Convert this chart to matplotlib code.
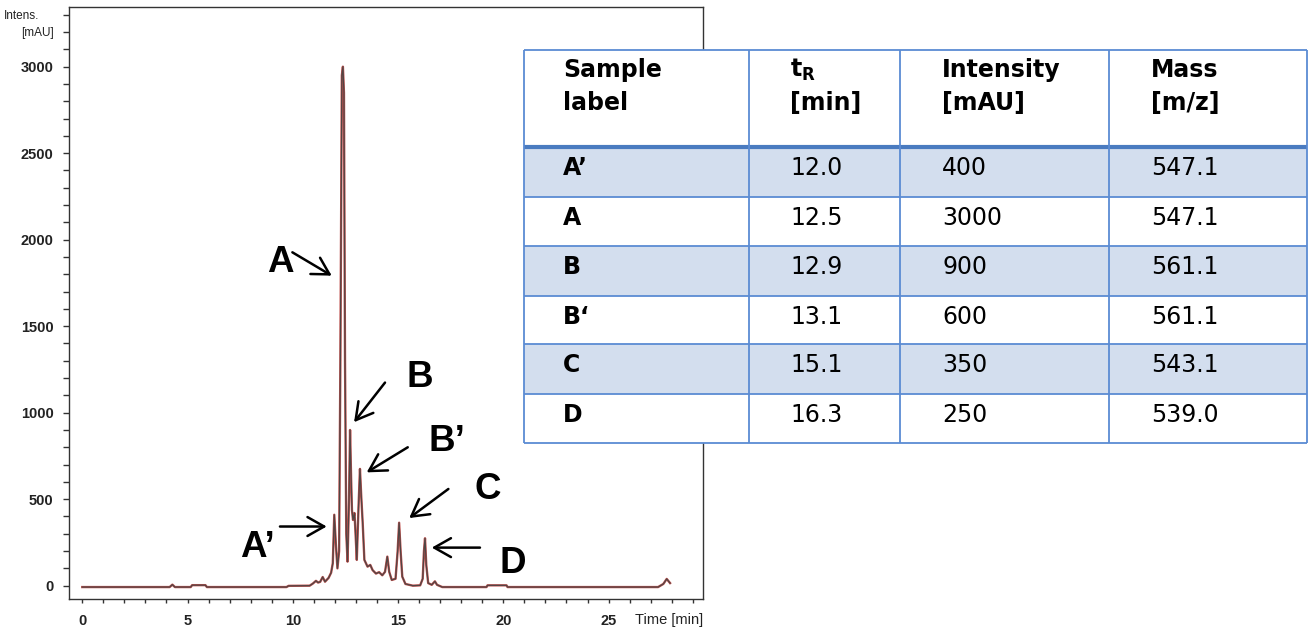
import matplotlib
matplotlib.use('Agg')
import matplotlib.pyplot as plt
from matplotlib.patches import Rectangle
import matplotlib.ticker as tkr

plt.rcParams['font.family'] = ['Liberation Sans', 'DejaVu Sans']
plt.rcParams['mathtext.fontset'] = 'dejavusans'

# chromatogram trace: time [min], intensity [mAU]
time_min = [0.00, 4.15, 4.28, 4.40, 5.15, 5.22, 5.85, 5.92, 9.70, 9.80,
            10.80, 10.95, 11.10, 11.20, 11.30, 11.42, 11.53, 11.70, 11.82, 11.90,
            11.97, 12.05, 12.12, 12.20, 12.26, 12.33, 12.38, 12.43, 12.48, 12.54,
            12.60, 12.67, 12.72, 12.77, 12.81, 12.86, 12.93, 12.98, 13.04, 13.12,
            13.19, 13.25, 13.32, 13.40, 13.55, 13.68, 13.79, 13.95, 14.10, 14.25,
            14.38, 14.49, 14.58, 14.70, 14.88, 14.98, 15.05, 15.12, 15.20, 15.35,
            15.70, 16.05, 16.17, 16.23, 16.28, 16.34, 16.43, 16.60, 16.75, 16.85,
            17.10, 19.20, 19.25, 20.15, 20.20, 27.35, 27.60, 27.76, 27.92]
intens_mau = [-8, -8, 6, -8, -8, 3, 3, -8, -8, -1,
              0, 12, 28, 18, 22, 50, 23, 45, 75, 130,
              410, 230, 100, 200, 1300, 2950, 3000, 2850, 1300, 300,
              139, 500, 900, 620, 437, 380, 420, 300, 149, 450,
              675, 520, 362, 149, 110, 120, 90, 70, 78, 60,
              80, 168, 80, 33, 40, 200, 364, 200, 52, 10,
              0, 2, 40, 200, 274, 120, 15, 5, 25, 5,
              -8, -8, 2, 2, -8, -8, 10, 39, 15]

# peak labels on the chromatogram
peak_names = ['A’', 'A', 'B', 'B’', 'C', 'D']

# table contents
header_top = ['Sample', r'$\mathbf{t}_{\mathbf{R}}$', 'Intensity', 'Mass']
header_bottom = ['label', '[min]', '[mAU]', '[m/z]']
sample_label = ['A’', 'A', 'B', 'B‘', 'C', 'D']
t_r = [12.0, 12.5, 12.9, 13.1, 15.1, 16.3]
intensity = [400, 3000, 900, 600, 350, 250]
mass = [547.1, 547.1, 561.1, 561.1, 543.1, 539.0]

W, H = 1308, 631
fig = plt.figure(figsize=(W / 100, H / 100), dpi=100)
ax = fig.add_axes([69 / W, 1 - 599 / H, (702.5 - 69) / W, (599 - 7) / H])

ax.plot(time_min, intens_mau, color='#C0504D', lw=1.7, zorder=2)
ax.plot(time_min, intens_mau, color='#444444', lw=0.9, alpha=0.9, zorder=3)

ax.set_xlim(-0.63, 29.46)
ax.set_ylim(-77, 3345)

edge = '#333333'
for s in ax.spines.values():
    s.set_color(edge)
    s.set_linewidth(1.0)

ax.xaxis.set_major_locator(tkr.FixedLocator(range(0, 30)))
ax.xaxis.set_major_formatter(tkr.FuncFormatter(
    lambda v, p: '%d' % v if int(round(v)) % 5 == 0 and v <= 25 else ''))
ax.yaxis.set_major_locator(tkr.FixedLocator(range(0, 3301, 100)))
ax.yaxis.set_major_formatter(tkr.FuncFormatter(
    lambda v, p: '%d' % v if int(round(v)) % 500 == 0 and v <= 3000 else ''))
ax.tick_params(axis='x', direction='out', length=3.1, width=1.0, color=edge,
               pad=7.5, labelsize=10.5)
ax.tick_params(axis='y', direction='out', length=4.1, width=1.0, color=edge,
               pad=7.0, labelsize=10.5)
for lab in ax.get_xticklabels() + ax.get_yticklabels():
    lab.set_fontweight('bold')
    lab.set_color('#222222')

fig.text(39.3 / W, 1 - 15.7 / H, 'Intens.', ha='right', va='center',
         fontsize=8.5, color='#222222')
fig.text(54 / W, 1 - 33.3 / H, '[mAU]', ha='right', va='center',
         fontsize=8.5, color='#222222')
fig.text(703.3 / W, 1 - 624 / H, 'Time [min]', ha='right', va='baseline',
         fontsize=10.5, color='#222222')

# peak letters (left, baseline) and arrows (tail -> tip), in data units
label_pos = [(7.49, 166), (8.76, 1815), (15.38, 1149), (16.44, 777),
             (18.62, 500), (19.84, 72)]
arrow_tail = [(9.39, 342), (9.98, 1927), (14.38, 1174), (15.46, 800),
              (17.39, 559), (18.89, 220)]
arrow_tip = [(11.61, 342), (11.85, 1792), (12.91, 945), (13.51, 655),
             (15.53, 391), (16.60, 220)]
for name, lp, tail, tip in zip(peak_names, label_pos, arrow_tail, arrow_tip):
    ax.text(lp[0], lp[1], name, ha='left', va='baseline', fontsize=26.5,
            fontweight='bold', color='black', zorder=5)
    ax.annotate('', xy=tip, xytext=tail,
                arrowprops=dict(arrowstyle='->,head_length=0.6,head_width=0.34',
                                mutation_scale=20, lw=1.8, color='black',
                                shrinkA=0, shrinkB=0), zorder=5)

# table drawn on top of the chart
col_x = [524, 749, 900, 1109, 1307]
row_y = [50, 147.3, 197.3, 246, 295.7, 344.3, 394, 443.3]
text_x = [563.3, 790, 942, 1151]
tab = fig.add_axes([col_x[0] / W, 1 - row_y[-1] / H,
                    (col_x[-1] - col_x[0]) / W, (row_y[-1] - row_y[0]) / H])
tab.set_xlim(col_x[0], col_x[-1])
tab.set_ylim(row_y[-1], row_y[0])
tab.axis('off')
tab.add_patch(Rectangle((col_x[0], row_y[0]), col_x[-1] - col_x[0],
                        row_y[-1] - row_y[0], facecolor='white',
                        edgecolor='none', zorder=0))

rows = list(zip(sample_label, ['%.1f' % v for v in t_r],
                ['%d' % v for v in intensity], ['%.1f' % v for v in mass]))
for i, row in enumerate(rows):
    top, bot = row_y[i + 1], row_y[i + 2]
    if i % 2 == 0:
        tab.add_patch(Rectangle((col_x[0], top), col_x[-1] - col_x[0], bot - top,
                                facecolor='#D3DEEE', edgecolor='none', zorder=1))
    for j, val in enumerate(row):
        tab.text(text_x[j], top + 28, val, ha='left', va='baseline',
                 fontsize=17, family='DejaVu Sans',
                 fontweight='bold' if j == 0 else 'normal', color='black',
                 zorder=4)

for j in range(4):
    tab.text(text_x[j], row_y[0] + 27.3, header_top[j], ha='left',
             va='baseline', fontsize=17, family='DejaVu Sans',
             fontweight='bold', color='black', zorder=4)
    tab.text(text_x[j], row_y[0] + 60, header_bottom[j], ha='left',
             va='baseline', fontsize=17, family='DejaVu Sans',
             fontweight='bold', color='black', zorder=4)

line_col = '#5B8BD3'
for k, y in enumerate(row_y):
    tab.plot([col_x[0], col_x[-1]], [y, y], color='#4A7BC0' if k == 1 else line_col,
             lw=3.0 if k == 1 else 1.3, clip_on=False, zorder=3,
             solid_capstyle='butt')
for x in col_x:
    tab.plot([x, x], [row_y[0], row_y[-1]], color=line_col, lw=1.3,
             clip_on=False, zorder=3, solid_capstyle='butt')

fig.savefig('out.png', dpi=100)
